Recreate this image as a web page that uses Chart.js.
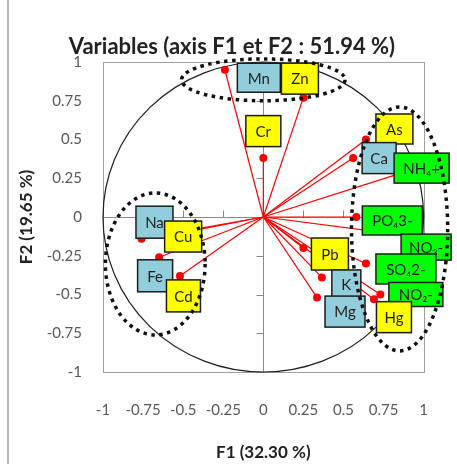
<!DOCTYPE html>
<html>
<head>
<meta charset="utf-8">
<script src="https://cdn.jsdelivr.net/npm/chart.js@4/dist/chart.umd.min.js"></script>
<style>
  html, body { margin: 0; padding: 0; background: #ffffff; }
  canvas { display: block; }
</style>
</head>
<body>
<canvas id="pca" width="457" height="464"></canvas>
<script>
// Correlation circle: loadings of each variable on F1 and F2
const variables = ['Mn', 'Zn', 'Cr', 'As', 'Ca', 'NH₄+', 'PO₄3-', 'NO₃-', 'SO₄2-', 'NO₂-', 'Hg', 'Pb', 'K', 'Mg', 'Na', 'Cu', 'Fe', 'Cd'];
const f1 = [-0.24, 0.25, 0.00, 0.64, 0.56, 0.85, 0.58, 0.90, 0.64, 0.73, 0.69, 0.25, 0.365, 0.335, -0.76, -0.55, -0.65, -0.52];
const f2 = [0.95, 0.77, 0.38, 0.50, 0.38, 0.28, 0.00, -0.12, -0.30, -0.50, -0.53, -0.20, -0.39, -0.52, -0.14, -0.11, -0.26, -0.38];
// kind of each variable (sets the label fill)
const kinds = ['major', 'trace', 'trace', 'trace', 'major', 'ion', 'ion', 'ion', 'ion', 'ion', 'trace', 'trace', 'major', 'major', 'major', 'trace', 'major', 'trace'];

const xTickLabels = ['-1', '-0.75', '-0.5', '-0.25', '0', '0.25', '0.5', '0.75', '1'];
const yTickLabels = ['-1', '-0.75', '-0.5', '-0.25', '0', '0.25', '0.5', '0.75', '1'];

const chartTitle = 'Variables (axis F1 et F2 : 51.94 %)';
const xAxisTitle = 'F1 (32.30 %)';
const yAxisTitle = 'F2 (19.65 %)';

// label boxes: offset from the point [dx, dy] and box size [w, h], in px
const labelBoxes = {
  'Mn': [34, 8, 43, 29],
  'Zn': [-3.5, -19, 37, 31],
  'Cr': [0, -27, 35, 31],
  'As': [28.5, -10.5, 37, 30],
  'Ca': [26, 0, 34, 31],
  'NH₄+': [22, -5.5, 55, 30],
  'PO₄3-': [36, 3.5, 60, 29],
  'NO₃-': [18.5, 11.5, 50, 26],
  'SO₄2-': [40, 5.5, 60, 30],
  'NO₂-': [35.5, 0, 54, 24],
  'Hg': [20, 18, 35, 31],
  'Pb': [26.5, 6, 37, 32],
  'K': [24.5, 6.5, 29, 28],
  'Mg': [28, 14, 40, 31],
  'Na': [13, -16.5, 37, 32],
  'Cu': [8, 2.5, 37, 31],
  'Fe': [-4, 18.5, 35, 32],
  'Cd': [3.5, 20, 34, 32]
};
const kindFill = { major: '#92cddc', trace: '#ffff00', ion: '#00ff00' };

// dotted outlines around the variable groups (centre and radii in axis units)
const groupOutlines = [
  { cx: 0.0, cy: 0.885, rx: 0.51, ry: 0.135 },
  { cx: 0.85, cy: -0.077, rx: 0.30, ry: 0.787 },
  { cx: -0.674, cy: -0.303, rx: 0.311, ry: 0.458 }
];

const decor = {
  id: 'decor',
  beforeDraw(chart) {
    const { ctx } = chart;
    ctx.save();
    ctx.strokeStyle = '#a3a3a3';
    ctx.lineWidth = 1.5;
    ctx.beginPath();
    ctx.moveTo(8, 0);
    ctx.lineTo(8, chart.height);
    ctx.stroke();
    ctx.restore();
  },
  beforeDatasetsDraw(chart) {
    const { ctx, chartArea: a, scales: { x, y } } = chart;
    ctx.save();
    // plot frame
    ctx.strokeStyle = '#a0a0a0';
    ctx.lineWidth = 1;
    ctx.strokeRect(Math.round(a.left) + 0.5, Math.round(a.top) + 0.5, Math.round(a.right - a.left), Math.round(a.bottom - a.top));
    // axes through the origin with their tick marks
    const x0 = Math.round(x.getPixelForValue(0)) + 0.5;
    const y0 = Math.round(y.getPixelForValue(0)) + 0.5;
    ctx.strokeStyle = '#8a8a8a';
    ctx.beginPath();
    ctx.moveTo(a.left, y0); ctx.lineTo(a.right, y0);
    ctx.moveTo(x0, a.top); ctx.lineTo(x0, a.bottom);
    x.ticks.forEach(t => {
      const px = Math.round(x.getPixelForValue(t.value)) + 0.5;
      ctx.moveTo(px, y0); ctx.lineTo(px, y0 - 7);
    });
    y.ticks.forEach(t => {
      const py = Math.round(y.getPixelForValue(t.value)) + 0.5;
      ctx.moveTo(x0, py); ctx.lineTo(x0 - 7, py);
    });
    ctx.stroke();
    // unit correlation circle
    const cx = x.getPixelForValue(0), cy = y.getPixelForValue(0);
    ctx.strokeStyle = '#1e1e1e';
    ctx.lineWidth = 1.2;
    ctx.beginPath();
    ctx.ellipse(cx, cy, x.getPixelForValue(1) - cx, cy - y.getPixelForValue(1), 0, 0, Math.PI * 2);
    ctx.stroke();
    ctx.restore();
  },
  afterDatasetsDraw(chart) {
    const { ctx, scales: { x, y } } = chart;
    ctx.save();
    ctx.font = '15px Lato, "DejaVu Sans", sans-serif';
    ctx.textAlign = 'center';
    ctx.textBaseline = 'middle';
    variables.forEach((name, i) => {
      const [dx, dy, w, h] = labelBoxes[name];
      const px = x.getPixelForValue(f1[i]) + dx;
      const py = y.getPixelForValue(f2[i]) + dy;
      ctx.fillStyle = kindFill[kinds[i]];
      ctx.fillRect(px - w / 2, py - h / 2, w, h);
      ctx.strokeStyle = '#1c1c1c';
      ctx.lineWidth = 1.5;
      ctx.strokeRect(px - w / 2, py - h / 2, w, h);
      ctx.fillStyle = '#1f1f1f';
      ctx.fillText(name, px, py + 1);
    });
    // group outlines
    ctx.strokeStyle = '#111111';
    ctx.lineWidth = 3.5;
    ctx.setLineDash([3.5, 4.5]);
    groupOutlines.forEach(g => {
      const cx = x.getPixelForValue(g.cx), cy = y.getPixelForValue(g.cy);
      const rx = x.getPixelForValue(g.cx + g.rx) - cx;
      const ry = cy - y.getPixelForValue(g.cy + g.ry);
      ctx.beginPath();
      ctx.ellipse(cx, cy, rx, ry, 0, 0, Math.PI * 2);
      ctx.stroke();
    });
    ctx.restore();
  }
};

const tickFont = { family: 'Lato', size: 15 };
const titleFont = { family: 'Lato', size: 17, weight: 'bold' };

new Chart(document.getElementById('pca'), {
  type: 'scatter',
  data: {
    datasets: variables.map((name, i) => ({
      label: name,
      data: [{ x: 0, y: 0 }, { x: f1[i], y: f2[i] }],
      showLine: true,
      borderColor: '#ff0000',
      borderWidth: 1.2,
      pointRadius: [0, 4],
      pointBackgroundColor: '#ff0000',
      pointBorderColor: '#ff0000',
      pointBorderWidth: 0,
      clip: false
    }))
  },
  options: {
    responsive: false,
    animation: false,
    devicePixelRatio: 1,
    layout: { padding: { left: 7, right: 0, top: 0, bottom: 0 } },
    plugins: {
      legend: { display: false },
      tooltip: { enabled: false },
      title: {
        display: true,
        text: chartTitle,
        color: '#222222',
        font: { family: 'Lato', size: 22, weight: 'bold' },
        padding: { top: 33.8, bottom: 1.8 }
      }
    },
    scales: {
      x: {
        type: 'linear', position: 'bottom', min: -1, max: 1,
        grid: { display: false, drawTicks: false },
        border: { display: false },
        ticks: {
          stepSize: 0.25, autoSkip: false, maxRotation: 0, padding: 29,
          color: '#595959', font: tickFont,
          callback: (v, i) => xTickLabels[i]
        },
        title: { display: true, text: xAxisTitle, color: '#222222', font: titleFont, padding: { top: 0, bottom: 1 } },
        afterFit: s => { s.height = 92; }
      },
      y: {
        type: 'linear', position: 'left', min: -1, max: 1,
        grid: { display: false, drawTicks: false },
        border: { display: false },
        ticks: {
          stepSize: 0.25, autoSkip: false, padding: 21,
          color: '#595959', font: tickFont,
          callback: (v, i) => yTickLabels[i]
        },
        title: { display: true, text: yAxisTitle, color: '#222222', font: titleFont, padding: { top: 9, bottom: 0 } },
        afterFit: s => { s.width = 96; }
      },
      yRight: {
        type: 'linear', position: 'right', axis: 'y',
        grid: { display: false, drawTicks: false },
        border: { display: false },
        ticks: { display: false },
        afterFit: s => { s.width = 26; }
      }
    }
  },
  plugins: [decor]
});
</script>
</body>
</html>
